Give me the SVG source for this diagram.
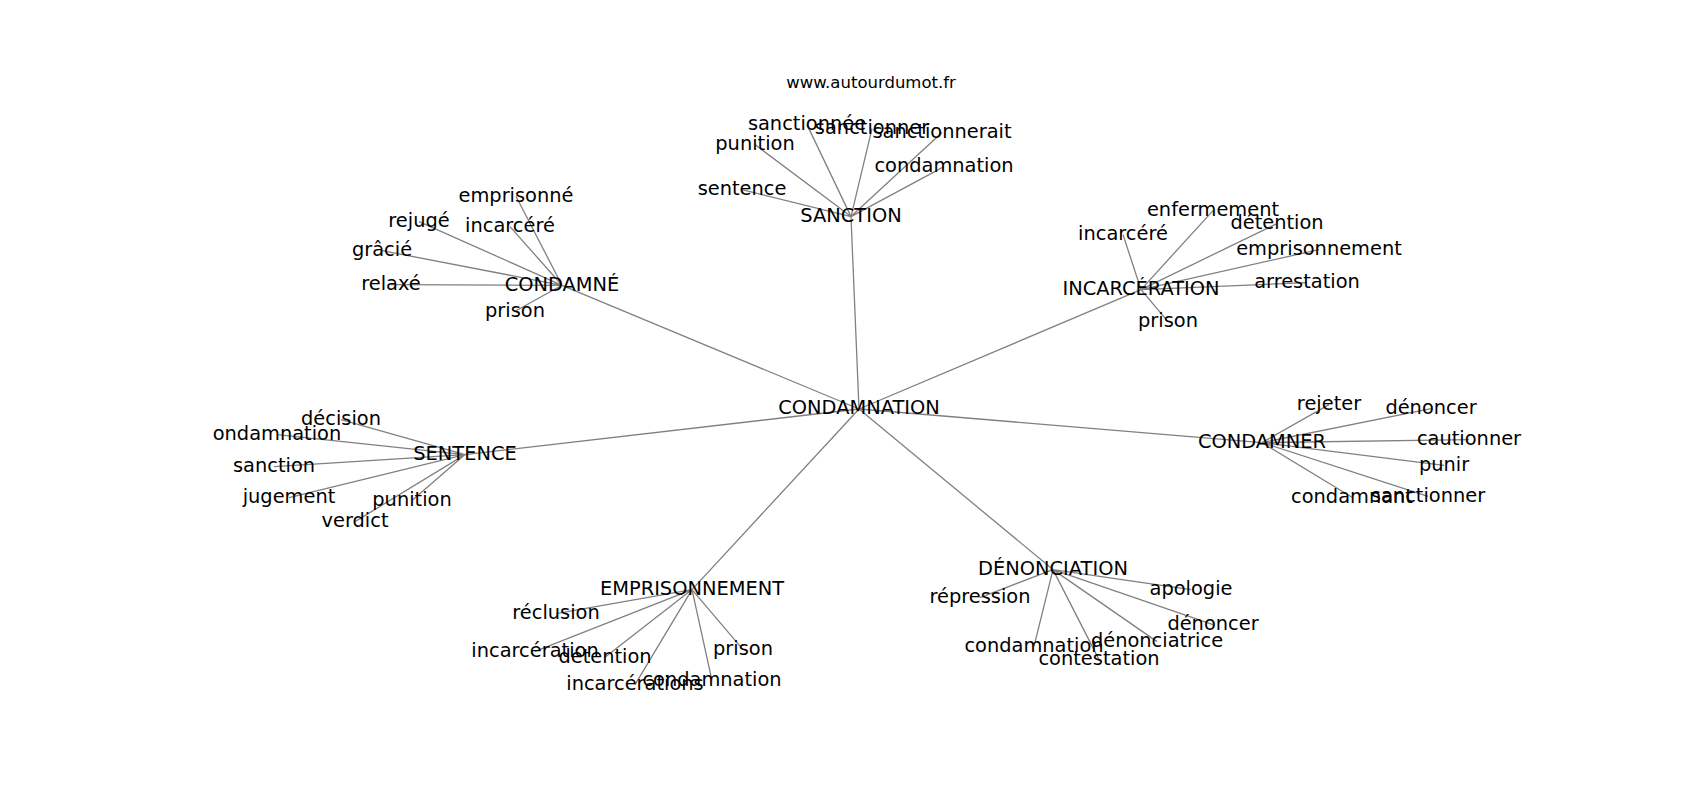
<svg xmlns="http://www.w3.org/2000/svg" width="1700" height="800" viewBox="0 0 1700 800">
<style>
.e{stroke:#808080;stroke-width:1.3;fill:none}
.n{font-family:"DejaVu Sans",sans-serif;font-size:19.4px;fill:#000;text-anchor:middle}
.t{font-family:"DejaVu Sans",sans-serif;font-size:16.5px;fill:#000;text-anchor:middle}
</style>
<rect width="1700" height="800" fill="#fff"/>
<g id="connectors">
<path class="e" d="M859 409L851 216.6M859 409L562 285.3M859 409L1141 289.6M859 409L465 454.6M859 409L1262 442.6M859 409L692 589.6M859 409L1053 569.6"/>
<path class="e" d="M851 216.6L807 124.6M851 216.6L872 128.6M851 216.6L942 132.6M851 216.6L755 144.6M851 216.6L944 166.6M851 216.6L742 189.6"/>
<path class="e" d="M562 285.3L516 196.3M562 285.3L419 221.6M562 285.3L510 226.6M562 285.3L382 250.6M562 285.3L391 284.6M562 285.3L515 311.3"/>
<path class="e" d="M1141 289.6L1213 210.6M1141 289.6L1123 234.6M1141 289.6L1277 223.6M1141 289.6L1319 249.6M1141 289.6L1307 282.6M1141 289.6L1168 321.6"/>
<path class="e" d="M465 454.6L341 419.6M465 454.6L277 434.6M465 454.6L274 466.6M465 454.6L289 497.6M465 454.6L412 500.6M465 454.6L355 521.6"/>
<path class="e" d="M1262 442.6L1329 404.6M1262 442.6L1431 408.6M1262 442.6L1469 439.6M1262 442.6L1444 465.3M1262 442.6L1352 497.3M1262 442.6L1428 496.3"/>
<path class="e" d="M692 589.6L556 613.6M692 589.6L535 651.3M692 589.6L605 657.3M692 589.6L743 649.6M692 589.6L635 684.6M692 589.6L712 680.6"/>
<path class="e" d="M1053 569.6L980 597.6M1053 569.6L1191 589.6M1053 569.6L1213 624.6M1053 569.6L1034 646.3M1053 569.6L1157 641.6M1053 569.6L1099 659.6"/>
</g>
<text class="t" x="871" y="88">www.autourdumot.fr</text>
<g id="n-condamnation"><text class="n" x="859" y="414.4">CONDAMNATION</text></g>
<g id="n-sanction"><text class="n" x="851" y="222">SANCTION</text></g>
<g id="n-sanctionnee"><text class="n" x="807" y="130">sanctionnée</text></g>
<g id="n-sanctionner"><text class="n" x="872" y="134">sanctionner</text></g>
<g id="n-sanctionnerait"><text class="n" x="942" y="138">sanctionnerait</text></g>
<g id="n-punition1"><text class="n" x="755" y="150">punition</text></g>
<g id="n-condamnation1"><text class="n" x="944" y="172">condamnation</text></g>
<g id="n-sentence1"><text class="n" x="742" y="195">sentence</text></g>
<g id="n-condamne"><text class="n" x="562" y="290.7">CONDAMNÉ</text></g>
<g id="n-emprisonne"><text class="n" x="516" y="201.7">emprisonné</text></g>
<g id="n-rejuge"><text class="n" x="419" y="227">rejugé</text></g>
<g id="n-incarcere1"><text class="n" x="510" y="232">incarcéré</text></g>
<g id="n-gracie"><text class="n" x="382" y="256">grâcié</text></g>
<g id="n-relaxe"><text class="n" x="391" y="290">relaxé</text></g>
<g id="n-prison1"><text class="n" x="515" y="316.7">prison</text></g>
<g id="n-incarceration"><text class="n" x="1141" y="295">INCARCÉRATION</text></g>
<g id="n-enfermement"><text class="n" x="1213" y="216">enfermement</text></g>
<g id="n-incarcere2"><text class="n" x="1123" y="240">incarcéré</text></g>
<g id="n-detention1"><text class="n" x="1277" y="229">détention</text></g>
<g id="n-emprisonnement1"><text class="n" x="1319" y="255">emprisonnement</text></g>
<g id="n-arrestation"><text class="n" x="1307" y="288">arrestation</text></g>
<g id="n-prison2"><text class="n" x="1168" y="327">prison</text></g>
<g id="n-sentence"><text class="n" x="465" y="460">SENTENCE</text></g>
<g id="n-decision"><text class="n" x="341" y="425">décision</text></g>
<g id="n-ondamnation"><text class="n" x="277" y="440">ondamnation</text></g>
<g id="n-sanction2"><text class="n" x="274" y="472">sanction</text></g>
<g id="n-jugement"><text class="n" x="289" y="503">jugement</text></g>
<g id="n-punition2"><text class="n" x="412" y="506">punition</text></g>
<g id="n-verdict"><text class="n" x="355" y="527">verdict</text></g>
<g id="n-condamner"><text class="n" x="1262" y="448">CONDAMNER</text></g>
<g id="n-rejeter"><text class="n" x="1329" y="410">rejeter</text></g>
<g id="n-denoncer1"><text class="n" x="1431" y="414">dénoncer</text></g>
<g id="n-cautionner"><text class="n" x="1469" y="445">cautionner</text></g>
<g id="n-punir"><text class="n" x="1444" y="470.7">punir</text></g>
<g id="n-condamnant"><text class="n" x="1352" y="502.7">condamnant</text></g>
<g id="n-sanctionner2"><text class="n" x="1428" y="501.7">sanctionner</text></g>
<g id="n-emprisonnement"><text class="n" x="692" y="595">EMPRISONNEMENT</text></g>
<g id="n-reclusion"><text class="n" x="556" y="619">réclusion</text></g>
<g id="n-incarceration2"><text class="n" x="535" y="656.7">incarcération</text></g>
<g id="n-detention2"><text class="n" x="605" y="662.7">détention</text></g>
<g id="n-prison3"><text class="n" x="743" y="655">prison</text></g>
<g id="n-incarcerations"><text class="n" x="635" y="690">incarcérations</text></g>
<g id="n-condamnation2"><text class="n" x="712" y="686">condamnation</text></g>
<g id="n-denonciation"><text class="n" x="1053" y="575">DÉNONCIATION</text></g>
<g id="n-repression"><text class="n" x="980" y="603">répression</text></g>
<g id="n-apologie"><text class="n" x="1191" y="595">apologie</text></g>
<g id="n-denoncer2"><text class="n" x="1213" y="630">dénoncer</text></g>
<g id="n-condamnation3"><text class="n" x="1034" y="651.7">condamnation</text></g>
<g id="n-denonciatrice"><text class="n" x="1157" y="647">dénonciatrice</text></g>
<g id="n-contestation"><text class="n" x="1099" y="665">contestation</text></g>
</svg>
